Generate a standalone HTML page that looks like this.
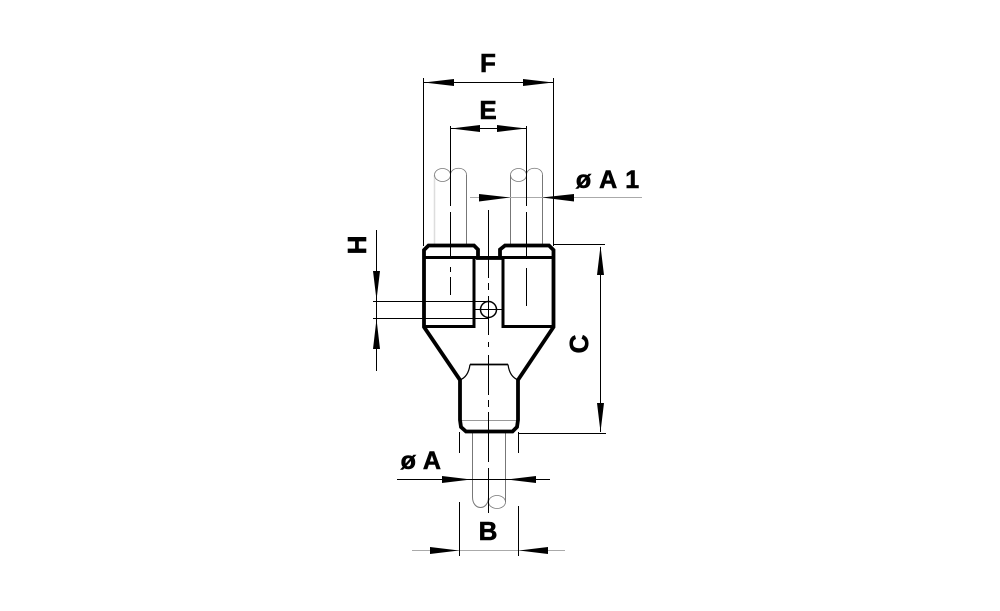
<!DOCTYPE html>
<html><head><meta charset="utf-8"><style>
html,body{margin:0;padding:0;background:#fff}
svg{display:block}
text{font-family:"Liberation Sans",sans-serif;font-weight:bold;fill:#000;stroke:#000;stroke-width:.6px;text-anchor:middle}
</style></head><body>
<svg width="1000" height="611" viewBox="0 0 1000 611" xmlns="http://www.w3.org/2000/svg">
<rect width="1000" height="611" fill="#fff"/>
<!-- tubes -->
<g fill="none" stroke="#777" stroke-width="1">
<path d="M434.5 245V175" stroke="#ddd" stroke-width="1.5"/>
<path d="M510.5 245V175M542.500 245V175M466.500 245V175"/>
<ellipse cx="442.500" cy="175" rx="8" ry="6.500" stroke-width=".8"/>
<ellipse cx="518.500" cy="175" rx="8" ry="6.500" stroke-width=".8"/>
<path d="M450.500 175C450.500 166 466.500 166 466.500 175M526.500 175C526.500 166 542.500 166 542.500 175" stroke-width=".8"/>
<path d="M472.500 433V497C472.500 511 488.500 511 488.500 497M505.500 433V502" />
<ellipse cx="497" cy="502" rx="8.500" ry="6.500" stroke-width=".8"/>
<path d="M470 197.500H642M412 550.500H565" stroke="#aaa"/>
<path d="M460 420.500H518" stroke="#999"/>
</g>
<!-- dimension lines -->
<g fill="none" stroke="#000" stroke-width="1">
<path d="M423.500 78V246M553.500 78V246"/>
<path d="M424 82.500H553M451 128.500H526"/>
<path d="M450.500 126V206M450.500 212V258M450.500 267V272M450.500 277V295"/>
<path d="M526.500 126V206M526.500 212V258M526.500 268V306"/>
<path d="M488.500 210V278M488.500 283V290M488.500 296V335M488.500 342V347M488.500 355V395M488.500 400V407M488.500 412V462M488.500 468V513"/>
<path d="M376.500 230V371M373 301.500H488M373 318.500H488M475 309.500H502"/>
<circle cx="488.500" cy="309.500" r="8" stroke-width="1.500"/>
<path d="M600.500 247V432M553 244.500H605M518 433.500H606"/>
<path d="M397 479.500H550"/>
<path d="M459.500 432V453M518.500 432V453M459.500 502V556M518.500 506V556"/>
<path d="M470 364.500H508" stroke-width="1.800"/>
<path d="M470 364.500C469 372 466 378 459.500 380M508 364.500C509 372 512 378 518.500 380" stroke-width="1.200"/>
</g>
<!-- body -->
<g fill="none" stroke="#000" stroke-width="3.800" stroke-linejoin="miter">
<path d="M424 327V250L428.500 245.500H474L478 249.500V258H500V249.500L505 245.500H549L553.500 250V327L518 380V420L517 427L512.500 431.500H466L461 427L460 420V380Z"/>
<path d="M424 257.500H553" stroke-width="3"/>
<path d="M474 258V326.500H424M503 258V326.500H553" stroke-width="3"/>
</g>
<!-- arrowheads -->
<g fill="#000">
<path d="M424 82.500L454 79V86ZM553 82.500L523 79V86Z"/>
<path d="M451 128.500L480 125V132ZM526 128.500L497 125V132Z"/>
<path d="M510 197.500L479 194V201.500ZM542 197.500L574 194V201.500Z"/>
<path d="M376.500 300L373 271H380ZM376.500 319L373 349H380Z"/>
<path d="M600.500 246L597 275H604ZM600.500 432L597 403H604Z"/>
<path d="M471 479.500L442 476V483ZM507 479.500L536 476V483Z"/>
<path d="M459 550.500L430 547V554ZM519 550.500L548 547V554Z"/>
</g>
<!-- labels -->
<text x="488" y="72" font-size="26">F</text>
<text x="488" y="119" font-size="26">E</text>
<text x="608" y="188" font-size="25" style="letter-spacing:1px">ø A 1</text>
<text x="421" y="469" font-size="25" style="letter-spacing:.5px">ø A</text>
<text x="488" y="540" font-size="26">B</text>
<text transform="translate(366 245) rotate(-90)" font-size="26">H</text>
<text transform="translate(588 344) rotate(-90)" font-size="26">C</text>
</svg>
</body></html>
